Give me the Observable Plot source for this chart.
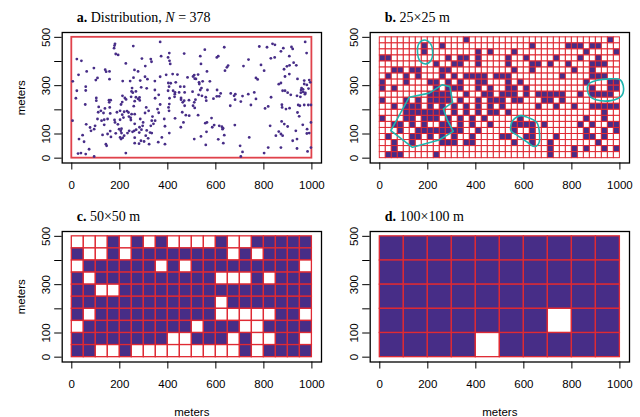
<!DOCTYPE html>
<html><head><meta charset="utf-8">
<script src="https://cdn.jsdelivr.net/npm/d3@7"></script>
<script src="https://cdn.jsdelivr.net/npm/@observablehq/plot@0.6"></script>
<style>
html,body{margin:0;padding:0;background:#fff;}
#chart{position:relative;width:640px;height:417px;overflow:hidden;background:#fff;}
#chart .panel{position:absolute;}
#chart svg{overflow:visible;}
</style></head><body><div id="chart"></div>
<script>
// ---------- data (meters) ----------
const areaWidth = 1000, areaHeight = 500;
const xTicks = [0, 200, 400, 600, 800, 1000];
const yTicks = [0, 100, 200, 300, 400, 500];
const yTickLabels = [0, 100, 300, 500];

// a. tree locations
const pointX = [180,178,176,256,368,183,193,21,40,292,329,332,225,372,406,401,407,410,468,92,62,28,139,143,157,261,276,306,368,393,420,440,482,510,512,4,107,100,157,212,243,257,285,305,315,346,402,412,433,58,452,468,503,21,58,251,289,312,405,249,254,267,346,401,430,422,429,428,447,455,470,102,17,211,221,226,247,282,347,407,155,162,
635,781,813,836,846,881,871,920,915,972,978,554,535,604,610,736,845,906,538,646,651,715,788,829,896,907,924,935,801,906,563,526,517,767,774,940,968,989,993,968,979,530,531,575,871,862,535,565,605,878,888,899,955,957,963,964,954,971,973,542,558,604,590,614,676,681,711,735,760,830,952,680,767,
56,102,156,205,267,276,283,368,406,455,462,468,470,510,121,132,158,201,218,236,249,305,320,336,357,405,403,475,489,465,3,107,124,135,149,178,180,201,192,207,246,245,297,295,333,347,329,385,430,97,93,76,45,80,128,149,163,183,197,204,207,201,218,232,239,253,260,281,308,326,333,375,406,454,30,51,142,145,205,212,288,301,322,510,26,38,58,72,93,225,
505,704,746,805,818,875,876,892,907,943,950,968,985,996,660,526,582,940,947,556,563,593,614,625,628,630,679,826,874,885,899,996,933,980,989,979,561,635,538,610,631,739,850,871,878,920,938,701,558,711,704,818,801,871,938,982,996,
638,884,888,986,362,662,912,938,262,488,560,112,138,258,310,160,188,262,362,460,285,60,135,262,388,962,160,312,862,262,262,360,388,
528,540,210,230,268,215,290,340,515,505,545,512,318,280,282,238,110,210,620,585];
const pointY = [473,466,455,464,481,431,427,410,403,412,410,399,392,422,435,417,403,390,433,373,359,345,366,358,359,365,359,381,337,345,348,346,334,344,329,318,332,323,327,319,319,333,321,337,327,319,311,310,314,296,296,296,275,279,280,290,293,289,296,276,271,276,282,279,272,279,265,254,272,249,272,249,248,258,249,243,254,251,248,248,240,240,
459,462,459,473,469,455,442,452,460,481,435,449,422,417,422,408,417,422,390,376,383,381,386,413,380,384,395,384,362,348,359,346,328,332,326,328,321,323,314,307,303,314,307,318,311,306,282,282,282,279,279,271,282,290,285,274,271,265,270,258,252,256,246,256,258,265,257,265,272,252,254,242,245,
222,238,231,222,252,245,239,222,224,242,231,238,217,231,196,187,210,196,192,189,182,187,196,172,203,196,210,178,176,148,155,162,155,159,162,158,148,159,140,122,158,167,148,134,155,155,134,162,165,134,120,127,95,113,96,100,88,103,120,113,104,86,93,104,113,109,113,106,93,106,104,86,104,128,79,68,58,51,79,84,72,69,58,79,19,21,17,37,7,21,
217,234,220,206,214,221,210,203,207,220,217,220,220,220,217,178,166,189,173,145,148,137,134,130,120,124,137,134,152,141,131,148,113,120,104,102,109,95,90,78,62,86,93,100,93,72,79,51,55,26,7,44,21,44,40,28,44,
362,368,338,288,262,268,262,258,236,240,238,212,206,215,210,185,190,182,188,190,162,140,138,142,132,138,112,115,110,85,62,66,58,
262,290,180,195,118,168,118,142,242,338,318,208,82,60,128,172,190,232,268,128];

// b. occupied 25x25 m cells: column indices (0-39) for each row, rows listed from top (475-500 m) down
const bCell = 25;
const bRows = [
  [14,38],
  [7,10,25,31,32,33,35,36],
  [7,16,18,22,34,39],
  [0,1,11,13,14,16,21,24,29,33,36],
  [9,12,13,16,21,25,26,28,31,35,36,37],
  [2,3,5,6,10,11,22,25,32,35],
  [1,4,6,10,12,14,15,16,17,19,20,21,30,35,36,37],
  [0,4,8,9,11,13,16,17,21,23,34,38,39],
  [0,2,9,11,12,13,16,18,21,22,24,35,38,39],
  [8,9,10,11,14,17,18,20,21,22,24,26,27,28,29,30,33,35,36,37,38],
  [0,4,6,8,9,10,11,13,16,18,19,20,22,23,27,28,30],
  [2,4,5,6,8,10,12,14,16,18,20,26,29,32,35,36,37,38,39],
  [4,5,6,7,8,9,10,12,14,16,18,19,21,37],
  [0,4,5,7,8,9,11,13,15,17,23,34,37],
  [2,3,5,7,10,11,13,15,18,22,23,24,25,27,33,35,38,39],
  [3,6,7,8,9,10,11,12,13,16,22,25,34,37,39],
  [1,5,6,8,10,12,15,20,21,24,25,29,34,35,37],
  [2,5,10,11,12,14,15,22,25,28,36],
  [2,28,32,34,37,39],
  [1,2,3,9,28,32]
];

// c. 50x50 m occupancy, rows from top
const cCell = 50;
const cRows = [
  "00010101000010011111",
  "10010111111110101111",
  "01111110101111111110",
  "10111111111100010111",
  "11001111111111111111",
  "11111111111101111111",
  "10111111111100000110",
  "01111111110111001111",
  "11111111001110100110",
  "11001000000000101111"
];

// d. 100x100 m occupancy, rows from top
const dCell = 100;
const dRows = [
  "1111111111",
  "1111111111",
  "1111111111",
  "1111111011",
  "1111011111"
];

// cluster outlines in panel b (meters)
const bigHullX = [46,122,206,261,292,303,265,282,306,247,136];
const bigHullY = [114,252,269,304,296,231,204,155,111,75,45];
const ellipseX = [188,210,220,213,192,168,157,164];
const ellipseY = [489,476,442,404,390,401,438,476];
const eastBlobX = [870,900,963,1000,1014,1008,963,900,876,865];
const eastBlobY = [307,321,328,325,300,259,238,242,255,280];
const southBlobX = [553,588,622,653,664,661,643,615,574,546,546];
const southBlobY = [155,176,166,149,114,59,48,66,93,114,135];

const titles = [
  [["a.", "bold"], [" Distribution, ", ""], ["N", "italic"], [" = 378", ""]],
  [["b.", "bold"], [" 25×25 m", ""]],
  [["c.", "bold"], [" 50×50 m", ""]],
  [["d.", "bold"], [" 100×100 m", ""]]
];

// ---------- styling ----------
const purple = "#472d87";
const red = "#df2a33";
const cyan = "#1fb4ae";

function cellsFrom(size, rows, isOn) {
  const out = [];
  rows.forEach((row, r) => {
    const n = areaWidth / size;
    for (let c = 0; c < n; c++) {
      out.push({x1: c * size, x2: (c + 1) * size, y1: areaHeight - (r + 1) * size, y2: areaHeight - r * size, on: isOn(row, c)});
    }
  });
  return out;
}
const bCells = cellsFrom(bCell, bRows, (row, c) => row.includes(c));
const cCells = cellsFrom(cCell, cRows, (row, c) => row[c] === "1");
const dCells = cellsFrom(dCell, dRows, (row, c) => row[c] === "1");
const pts = pointX.map((x, i) => ({x, y: pointY[i]}));
const outline = (xs, ys) => xs.map((x, i) => ({x, y: ys[i]}));

function gridMarks(cells, sw) {
  return [Plot.rect(cells, {x1: "x1", x2: "x2", y1: "y1", y2: "y2", fill: d => d.on ? purple : "white", stroke: red, strokeWidth: sw})];
}

const chart = document.getElementById("chart");

function panel(idx, left, top, bottomRow, leftCol, marks) {
  const h = bottomRow ? 218 : 200;
  const svg = Plot.plot({
    width: 330, height: h,
    marginLeft: 61.7, marginRight: 9, marginTop: 32, marginBottom: h - 32 - 130.5,
    x: {domain: [-40, 1040]},
    y: {domain: [-20, 520]},
    style: {fontFamily: "'Liberation Sans', Arial, Helvetica, sans-serif", fontSize: "11.5px", background: "transparent", color: "black", overflow: "visible"},
    marks: [
      ...marks,
      Plot.frame({stroke: "black", strokeWidth: 1.3}),
      Plot.axisX({ticks: xTicks, tickFormat: d => String(d), tickSize: 7, tickPadding: 11, label: bottomRow ? "meters" : null, labelAnchor: "center", labelOffset: 54, labelArrow: "none"}),
      Plot.axisY({ticks: yTicks, tickFormat: d => yTickLabels.includes(d) ? String(d) : "", tickRotate: -90, tickSize: 7.5, tickPadding: 4.5, label: leftCol ? "meters" : null, labelAnchor: "center", labelOffset: 45, labelArrow: "none"})
    ]
  });
  const div = document.createElement("div");
  div.className = "panel";
  div.style.left = left + "px";
  div.style.top = top + "px";
  div.appendChild(svg);
  chart.appendChild(div);
  const t = d3.select(svg).append("text")
    .attr("x", 76.7).attr("y", 21.7)
    .attr("text-anchor", "start")
    .attr("font-family", "'Liberation Serif', 'Times New Roman', Times, serif")
    .attr("font-size", 14).attr("fill", "black")
    .style("white-space", "pre");
  titles[idx].forEach(([s, kind]) => {
    const ts = t.append("tspan").text(s);
    if (kind === "bold") ts.attr("font-weight", "bold");
    if (kind === "italic") ts.attr("font-style", "italic");
  });
}

panel(0, 0, 0, false, true, [
  Plot.rect([{x1: 0, x2: areaWidth, y1: 0, y2: areaHeight}], {x1: "x1", x2: "x2", y1: "y1", y2: "y2", fill: "none", stroke: "#e0424b", strokeWidth: 1.8}),
  Plot.dot(pts, {x: "x", y: "y", r: 1.4, fill: purple, stroke: "none"})
]);
panel(1, 308, 0, false, false, [
  ...gridMarks(bCells, 1),
  Plot.line(outline(bigHullX, bigHullY), {x: "x", y: "y", stroke: cyan, strokeWidth: 1.6, curve: "linear-closed"}),
  Plot.line(outline(ellipseX, ellipseY), {x: "x", y: "y", stroke: cyan, strokeWidth: 1.6, curve: "catmull-rom-closed"}),
  Plot.line(outline(eastBlobX, eastBlobY), {x: "x", y: "y", stroke: cyan, strokeWidth: 1.6, curve: "catmull-rom-closed"}),
  Plot.line(outline(southBlobX, southBlobY), {x: "x", y: "y", stroke: cyan, strokeWidth: 1.6, curve: "catmull-rom-closed"})
]);
panel(2, 0, 199, true, true, gridMarks(cCells, 1.3));
panel(3, 308, 199, true, false, gridMarks(dCells, 1.3));
</script>
</body></html>
